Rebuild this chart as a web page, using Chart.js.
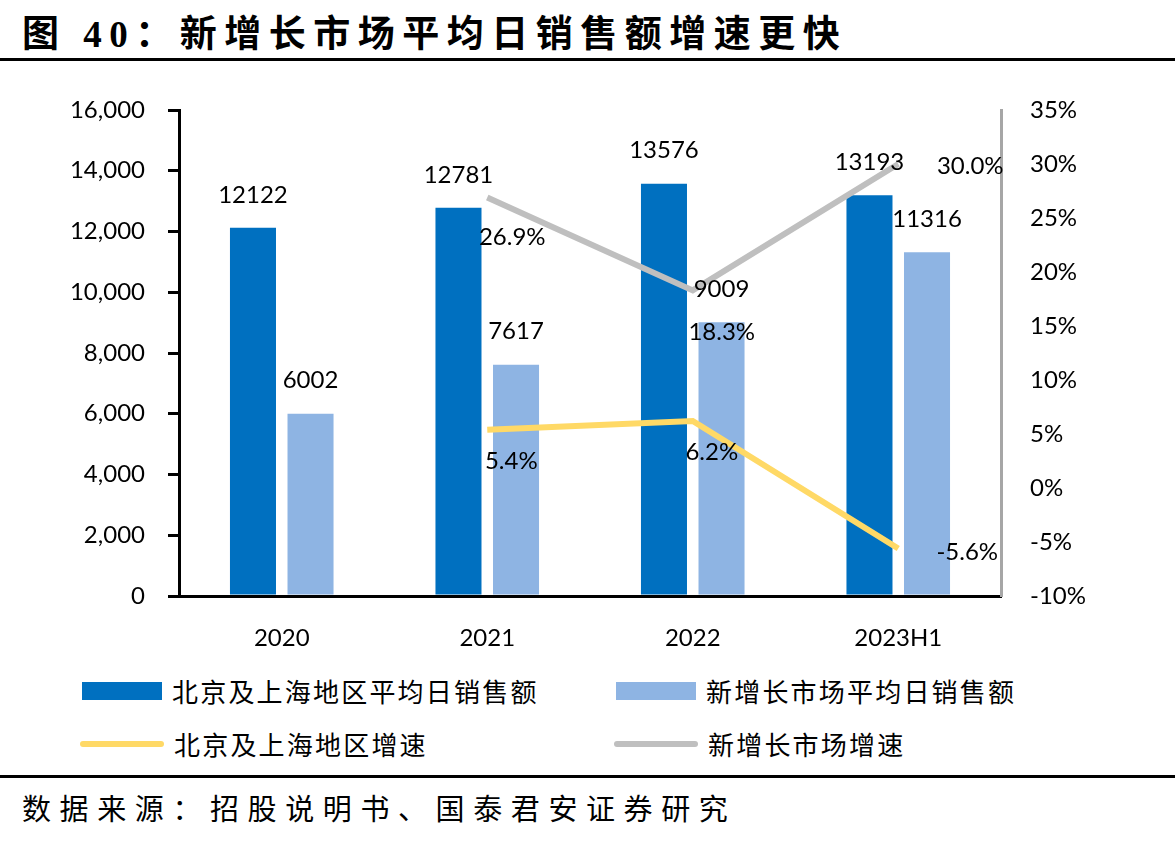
<!DOCTYPE html>
<html>
<head>
<meta charset="utf-8">
<script src="https://cdn.jsdelivr.net/npm/chart.js@4"></script>
<style>
  body { margin: 0; background: #fff; width: 1175px; height: 844px; position: relative; overflow: hidden; }
  #title { position: absolute; left: 22px; top: 4px; font-family: "Liberation Serif", "Noto Sans CJK SC"; font-weight: 700; font-size: 37px; letter-spacing: 7.5px; color: #000; white-space: nowrap; }
  .rule { position: absolute; left: 0; width: 1175px; height: 3px; background: #000; }
  #chartBox { position: absolute; left: 0; top: 62px; width: 1175px; height: 598px; }
  #legend { position: absolute; left: 0; top: 672px; width: 1175px; }
  .item { position: absolute; display: flex; align-items: center; font-family: "Noto Sans CJK SC"; font-size: 26px; letter-spacing: 2.2px; color: #000; white-space: nowrap; }
  .swatch { margin-right: 10px; }
  #source { position: absolute; left: 22px; top: 786px; font-family: "Liberation Serif", "Noto Sans CJK SC"; font-size: 29px; letter-spacing: 8.6px; color: #000; white-space: nowrap; }
</style>
</head>
<body>
<div id="title">图 40：新增长市场平均日销售额增速更快</div>
<div class="rule" style="top:58px"></div>
<div id="chartBox"><canvas id="chart"></canvas></div>
<div id="legend"></div>
<div class="rule" style="top:775px"></div>
<div id="source">数据来源：招股说明书、国泰君安证券研究</div>

<script>
// Data
const categories = ['2020', '2021', '2022', '2023H1'];
const bjshSales = [12122, 12781, 13576, 13193];
const newMarketSales = [6002, 7617, 9009, 11316];
const bjshGrowth = [null, 5.4, 6.2, -5.6];
const newMarketGrowth = [null, 26.9, 18.3, 30.0];

// label offsets (px) for the growth lines, relative to each point
const bjshLabelOffsets = [null, [24, 32], [19, 31], [69, 4]];
const newLabelOffsets = [null, [25, 40], [29, 42], [72, 2]];

const tickFont = { family: 'Lato', size: 24 };

// Draw value labels next to bars and line points
const valueLabels = {
    id: 'valueLabels',
    afterDatasetsDraw(chart) {
        const ctx = chart.ctx;
        ctx.save();
        ctx.font = '24px Lato';
        ctx.fillStyle = '#000';
        ctx.textAlign = 'center';
        ctx.textBaseline = 'middle';
        chart.data.datasets.forEach((ds, i) => {
            const meta = chart.getDatasetMeta(i);
            meta.data.forEach((el, j) => {
                const v = ds.data[j];
                if (v === null) return;
                if (ds.type === 'bar') {
                    ctx.fillText(String(v), el.x, el.y - 33);
                } else {
                    const off = ds.labelOffsets[j];
                    ctx.fillText(v.toFixed(1) + '%', el.x + off[0], el.y + off[1]);
                }
            });
        });
        ctx.restore();
    }
};

const chart = new Chart(document.getElementById('chart'), {
    type: 'bar',
    data: {
        labels: categories,
        datasets: [
            { type: 'bar', label: '北京及上海地区平均日销售额', data: bjshSales, backgroundColor: '#0070C0', yAxisID: 'y', order: 2 },
            { type: 'bar', label: '新增长市场平均日销售额', data: newMarketSales, backgroundColor: '#8EB4E3', yAxisID: 'y', order: 2 },
            { type: 'line', label: '北京及上海地区增速', data: bjshGrowth, borderColor: '#FFD966', backgroundColor: '#FFD966', borderWidth: 6, pointRadius: 0, yAxisID: 'y1', order: 1, labelOffsets: bjshLabelOffsets },
            { type: 'line', label: '新增长市场增速', data: newMarketGrowth, borderColor: '#BFBFBF', backgroundColor: '#BFBFBF', borderWidth: 6, pointRadius: 0, yAxisID: 'y1', order: 1, labelOffsets: newLabelOffsets }
        ]
    },
    options: {
        responsive: true,
        maintainAspectRatio: false,
        animation: false,
        categoryPercentage: 0.56,
        barPercentage: 0.8,
        layout: { padding: { top: 48, left: 0, right: 0, bottom: 0 } },
        plugins: { legend: { display: false }, tooltip: { enabled: false } },
        scales: {
            x: {
                grid: { display: false },
                border: { color: '#000', width: 3 },
                ticks: { color: '#000', font: tickFont, padding: 20 },
                afterFit(scale) { scale.height = 64; }
            },
            y: {
                position: 'left',
                min: 0, max: 16000,
                ticks: { stepSize: 2000, color: '#000', font: tickFont, padding: 23,
                    callback: v => v.toLocaleString('en-US') },
                grid: { drawOnChartArea: false, drawTicks: true, tickLength: 11, color: '#000', lineWidth: 3 },
                border: { color: '#000', width: 3 },
                afterFit(scale) { scale.width = 179; }
            },
            y1: {
                position: 'right',
                min: -10, max: 35,
                ticks: { stepSize: 5, color: '#000', font: tickFont, padding: 29,
                    callback: v => v + '%' },
                grid: { drawOnChartArea: false, drawTicks: false },
                border: { color: '#A6A6A6', width: 3 },
                afterFit(scale) { scale.width = 174; }
            }
        }
    },
    plugins: [valueLabels]
});

// HTML legend in two columns, built from the chart datasets
const legendPos = [[82, 0], [616, 0], [80, 53], [614, 53]];
const legend = document.getElementById('legend');
chart.data.datasets.forEach((ds, i) => {
    const item = document.createElement('div');
    item.className = 'item';
    item.style.left = legendPos[i][0] + 'px';
    item.style.top = legendPos[i][1] + 'px';
    const sw = document.createElement('span');
    sw.className = 'swatch';
    sw.style.display = 'inline-block';
    sw.style.background = ds.type === 'bar' ? ds.backgroundColor : ds.borderColor;
    sw.style.width = ds.type === 'bar' ? '80px' : '84px';
    sw.style.height = ds.type === 'bar' ? '18px' : '6px';
    if (ds.type !== 'bar') sw.style.borderRadius = '3px';
    item.appendChild(sw);
    item.appendChild(document.createTextNode(ds.label));
    legend.appendChild(item);
});
</script>
</body>
</html>
